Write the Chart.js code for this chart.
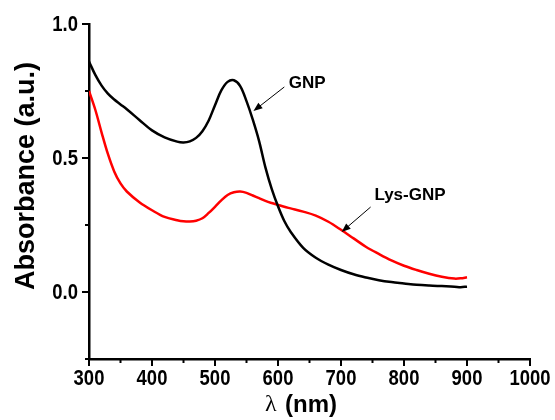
<!DOCTYPE html>
<html>
<head>
<meta charset="utf-8">
<script src="https://cdn.jsdelivr.net/npm/chart.js@4.4.1/dist/chart.umd.min.js"></script>
<style>
  html, body { margin: 0; padding: 0; background: #fff; }
  #wrap { width: 555px; height: 420px; }
</style>
</head>
<body>
<div id="wrap"><canvas id="chart" width="555" height="420"></canvas></div>
<script>
// UV-vis spectra
const wavelengths = [300, 310, 320, 330, 340, 350, 360, 380, 400, 420, 440, 450, 460, 470, 480, 490,
    500, 510, 520, 530, 540, 550, 560, 570, 580, 590, 600, 610, 620, 640, 660, 680,
    700, 720, 740, 760, 780, 800, 820, 840, 860, 880, 890, 900];
const gnp = [0.86, 0.81, 0.77, 0.74, 0.718, 0.700, 0.682, 0.642, 0.603, 0.577, 0.561, 0.558, 0.562, 0.575, 0.600, 0.640,
    0.697, 0.752, 0.784, 0.790, 0.768, 0.712, 0.643, 0.563, 0.465, 0.385, 0.320, 0.265, 0.225, 0.165, 0.128, 0.102,
    0.082, 0.066, 0.054, 0.044, 0.037, 0.032, 0.027, 0.024, 0.022, 0.020, 0.018, 0.020];
const lysGnp = [0.75, 0.68, 0.595, 0.515, 0.450, 0.405, 0.375, 0.335, 0.305, 0.280, 0.268, 0.264, 0.263, 0.266, 0.275, 0.295,
    0.318, 0.342, 0.362, 0.372, 0.375, 0.370, 0.360, 0.350, 0.340, 0.332, 0.325, 0.318, 0.312, 0.300, 0.285, 0.262,
    0.232, 0.200, 0.168, 0.142, 0.118, 0.098, 0.082, 0.068, 0.057, 0.050, 0.051, 0.055];

const xTickValues = [300, 400, 500, 600, 700, 800, 900, 1000];
const xTickLabels = ['300', '400', '500', '600', '700', '800', '900', '1000'];
const yTickValues = [0, 0.5, 1.0];
const yTickLabels = ['0.0', '0.5', '1.0'];

// labels with arrows: [text, textX, textY, arrowFromX, arrowFromY, arrowToX, arrowToY]
const notes = [
    ['GNP', 617, 0.78, 610, 0.765, 561, 0.675],
    ['Lys-GNP', 753, 0.362, 747, 0.317, 701, 0.224]
];

const extras = {
    id: 'extras',
    afterDraw(chart) {
        const ctx = chart.ctx;
        const xs = chart.scales.x, ys = chart.scales.y;
        const area = chart.chartArea;
        ctx.save();
        ctx.strokeStyle = '#000';
        ctx.fillStyle = '#000';
        ctx.lineWidth = 2;
        // x ticks, major + minor
        for (let v = 300; v <= 1000; v += 50) {
            const px = xs.getPixelForValue(v);
            const len = v % 100 === 0 ? 7 : 4;
            ctx.beginPath();
            ctx.moveTo(px, area.bottom);
            ctx.lineTo(px, area.bottom + len);
            ctx.stroke();
        }
        // y ticks
        for (let i = -1; i <= 4; i++) {
            const py = ys.getPixelForValue(i * 0.25);
            const len = i % 2 === 0 ? 7 : 4;
            ctx.beginPath();
            ctx.moveTo(area.left, py);
            ctx.lineTo(area.left - len, py);
            ctx.stroke();
        }

        // tick labels (condensed bold, like the original)
        ctx.font = 'bold 22px "Liberation Sans", Arial';
        ctx.textBaseline = 'middle';
        ctx.textAlign = 'center';
        xTickValues.forEach((v, i) => {
            ctx.save();
            ctx.translate(xs.getPixelForValue(v), 379);
            ctx.scale(0.84, 1);
            ctx.fillText(xTickLabels[i], 0, 0);
            ctx.restore();
        });
        ctx.textAlign = 'right';
        yTickValues.forEach((v, i) => {
            ctx.save();
            ctx.translate(78, ys.getPixelForValue(v) + 1);
            ctx.scale(0.84, 1);
            ctx.fillText(yTickLabels[i], 0, 0);
            ctx.restore();
        });

        // annotations
        ctx.lineWidth = 1;
        ctx.font = 'bold 17px "Liberation Sans", Arial';
        ctx.textAlign = 'left';
        notes.forEach(n => {
            ctx.fillText(n[0], xs.getPixelForValue(n[1]), ys.getPixelForValue(n[2]));
            const x1 = xs.getPixelForValue(n[3]), y1 = ys.getPixelForValue(n[4]);
            const x2 = xs.getPixelForValue(n[5]), y2 = ys.getPixelForValue(n[6]);
            const ang = Math.atan2(y2 - y1, x2 - x1);
            const c = Math.cos(ang), s = Math.sin(ang);
            ctx.beginPath();
            ctx.moveTo(x1, y1);
            ctx.lineTo(x2 - 6 * c, y2 - 6 * s);
            ctx.stroke();
            ctx.beginPath();
            ctx.moveTo(x2, y2);
            ctx.lineTo(x2 - 9 * c + 3.5 * s, y2 - 9 * s - 3.5 * c);
            ctx.lineTo(x2 - 9 * c - 3.5 * s, y2 - 9 * s + 3.5 * c);
            ctx.closePath();
            ctx.fill();
        });

        // axis titles
        ctx.textAlign = 'center';
        ctx.save();
        ctx.translate(27, 176);
        ctx.rotate(-Math.PI / 2);
        ctx.font = 'bold 27px "Liberation Sans", Arial';
        ctx.fillText('Absorbance (a.u.)', 0, 0);
        ctx.restore();

        ctx.textAlign = 'left';
        ctx.font = '24px "Liberation Serif", serif';
        ctx.fillText('λ', 265, 405);
        ctx.font = 'bold 24px "Liberation Sans", Arial';
        ctx.fillText('(nm)', 285, 405);
        ctx.restore();
    }
};

new Chart(document.getElementById('chart'), {
    type: 'line',
    data: {
        datasets: [
            {
                label: 'GNP',
                data: wavelengths.map((x, i) => ({ x: x, y: gnp[i] })),
                borderColor: '#000000',
                borderWidth: 2.5,
                pointRadius: 0,
                tension: 0.35
            },
            {
                label: 'Lys-GNP',
                data: wavelengths.map((x, i) => ({ x: x, y: lysGnp[i] })),
                borderColor: '#ff0000',
                borderWidth: 2.5,
                pointRadius: 0,
                tension: 0.35
            }
        ]
    },
    options: {
        responsive: false,
        animation: false,
        layout: { padding: { top: 24, right: 25, bottom: 0, left: 0 } },
        plugins: {
            legend: { display: false },
            tooltip: { enabled: false }
        },
        scales: {
            x: {
                type: 'linear',
                min: 300,
                max: 1000,
                grid: { display: false },
                border: { display: true, color: '#000', width: 2.5 },
                ticks: { display: false },
                afterFit: s => { s.height = 61; }
            },
            y: {
                min: -0.25,
                max: 1.0,
                grid: { display: false },
                border: { display: true, color: '#000', width: 2.5 },
                ticks: { display: false },
                afterFit: s => { s.width = 89; }
            }
        }
    },
    plugins: [extras]
});
</script>
</body>
</html>
